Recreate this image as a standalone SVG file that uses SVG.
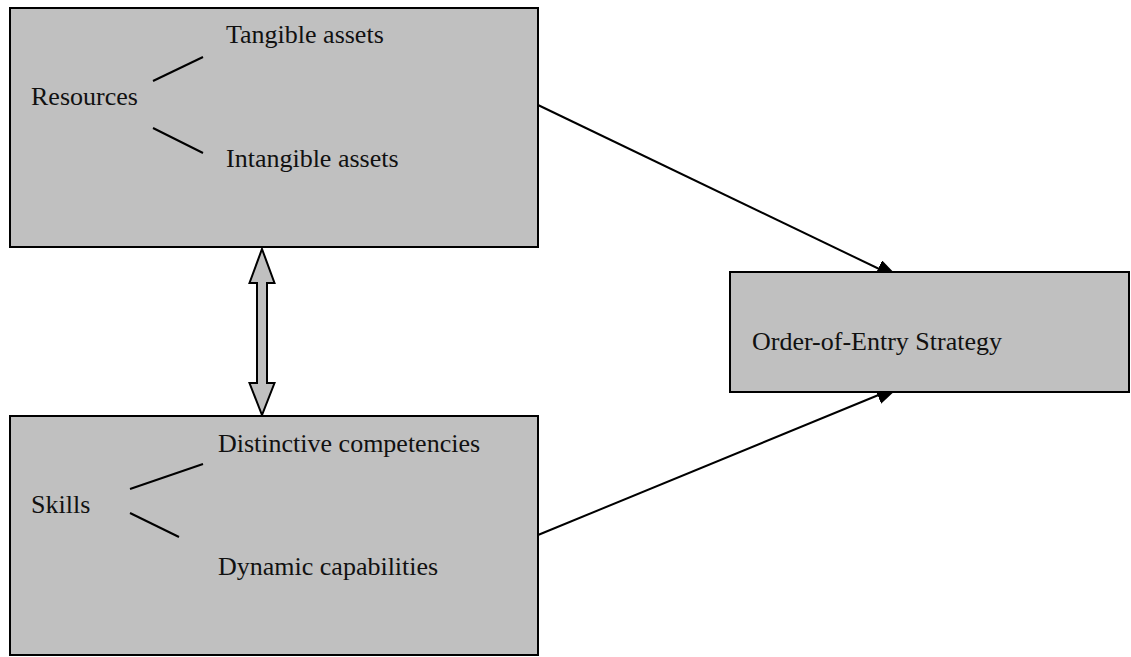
<svg xmlns="http://www.w3.org/2000/svg" width="1131" height="657" viewBox="0 0 1131 657">
<style>
.box{fill:#c0c0c0;stroke:#000;stroke-width:2}
.t{font-family:"Liberation Serif","Times New Roman",serif;font-size:26px;fill:#111}
.ln{stroke:#000;stroke-width:2;fill:none}
</style>
<defs>
<marker id="ah" markerWidth="24" markerHeight="18" refX="22" refY="9" orient="auto" markerUnits="userSpaceOnUse">
<path d="M0,0 L24,9 L0,18 Z" fill="#000"/>
</marker>
</defs>
<rect width="1131" height="657" fill="#fff"/>
<g id="connectors">
<line class="ln" x1="538" y1="105" x2="898" y2="278" marker-end="url(#ah)"/>
<line class="ln" x1="538" y1="535" x2="898" y2="387" marker-end="url(#ah)"/>
<path d="M262,249 L274.5,283 L267,283 L267,383 L274.5,383 L262,415 L249.5,383 L257,383 L257,283 L249.5,283 Z" fill="#c0c0c0" stroke="#000" stroke-width="2" stroke-linejoin="miter"/>
</g>
<g id="resources">
<rect class="box" x="10" y="8" width="528" height="239"/>
<text class="t" x="31" y="105">Resources</text>
<line class="ln" x1="153" y1="81" x2="203" y2="57"/>
<line class="ln" x1="153" y1="128" x2="203" y2="153"/>
<text class="t" x="226" y="43">Tangible assets</text>
<text class="t" x="226" y="167">Intangible assets</text>
</g>
<g id="skills">
<rect class="box" x="10" y="416" width="528" height="239"/>
<text class="t" x="31" y="513">Skills</text>
<line class="ln" x1="130" y1="489" x2="203" y2="464"/>
<line class="ln" x1="130" y1="513" x2="179" y2="537"/>
<text class="t" x="218" y="452">Distinctive competencies</text>
<text class="t" x="218" y="575">Dynamic capabilities</text>
</g>
<g id="strategy">
<rect class="box" x="730" y="272" width="399" height="120"/>
<text class="t" x="752" y="350">Order-of-Entry Strategy</text>
</g>
</svg>
